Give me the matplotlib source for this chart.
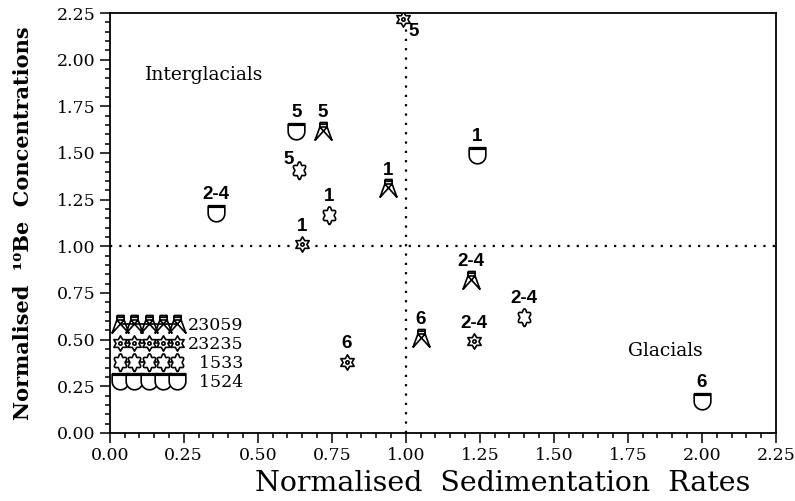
import numpy as np
import matplotlib
matplotlib.use("Agg")
import matplotlib.pyplot as plt
from matplotlib.path import Path
from matplotlib.markers import MarkerStyle
from matplotlib.lines import Line2D
from matplotlib.ticker import MultipleLocator, FormatStrFormatter

# --- data: sedimentation rate (x), 10Be conc. (y), stage label ---
cores = ["23059", "23235", "1533", "1524"]

x_23059 = [0.72, 0.94, 1.22, 1.05]
y_23059 = [1.62, 1.31, 0.82, 0.51]
stage_23059 = ["5", "1", "2-4", "6"]

x_23235 = [0.99, 0.65, 0.80, 1.23]
y_23235 = [2.22, 1.01, 0.38, 0.49]
stage_23235 = ["5", "1", "6", "2-4"]

x_1533 = [0.64, 0.74, 1.40]
y_1533 = [1.41, 1.17, 0.62]
stage_1533 = ["5", "1", "2-4"]

x_1524 = [0.36, 0.63, 1.24, 2.00]
y_1524 = [1.18, 1.62, 1.49, 0.17]
stage_1524 = ["2-4", "5", "1", "6"]

x_ticks = [0.00, 0.25, 0.50, 0.75, 1.00, 1.25, 1.50, 1.75, 2.00, 2.25]
y_ticks = [0.00, 0.25, 0.50, 0.75, 1.00, 1.25, 1.50, 1.75, 2.00, 2.25]


# --- marker shapes (old plotter symbols) ---
def pylon_path():
    M, L = Path.MOVETO, Path.LINETO
    verts = [(-0.4, 1.0), (0.4, 1.0), (0.4, 0.5), (-0.4, 0.5), (-0.4, 1.0),
             (-0.4, 0.8), (0.4, 0.8),
             (-0.4, 0.5), (-0.95, -1.0),
             (0.4, 0.5), (0.95, -1.0),
             (-0.4, 0.5), (0.95, -1.0),
             (0.4, 0.5), (-0.95, -1.0)]
    codes = [M, L, L, L, L, M, L, M, L, M, L, M, L, M, L]
    return Path(verts, codes)


def star_path():
    ang = np.deg2rad(90 + 30 * np.arange(12))
    rad = np.where(np.arange(12) % 2 == 0, 1.0, 0.58)
    outer = np.column_stack([rad * np.cos(ang), rad * np.sin(ang)])
    t = np.linspace(0, 2 * np.pi, 13)
    inner = np.column_stack([0.22 * np.cos(t), 0.22 * np.sin(t)])
    verts = np.vstack([outer, outer[:1], inner])
    codes = ([Path.MOVETO] + [Path.LINETO] * 11 + [Path.CLOSEPOLY]
             + [Path.MOVETO] + [Path.LINETO] * 12)
    return Path(verts, codes)


def cloud_path():
    t = np.linspace(np.pi / 2, np.pi / 2 + 2 * np.pi, 121)
    r = 0.82 + 0.16 * np.cos(6 * (t - np.pi / 2))
    verts = np.column_stack([0.8 * r * np.cos(t), r * np.sin(t)])
    verts = np.vstack([verts, [(0, -0.95), (0, -1.1)]])
    codes = [Path.MOVETO] + [Path.LINETO] * 120 + [Path.MOVETO, Path.LINETO]
    return Path(verts, codes)


def shield_path():
    t = np.linspace(0, -np.pi, 17)
    arc = np.column_stack([0.8 * np.cos(t), 0.8 * np.sin(t)])
    outline = np.vstack([[(-0.8, 0.75), (0.8, 0.75), (0.8, 0.0)], arc, [(-0.8, 0.75)]])
    bar = np.array([(-0.8, 0.6), (0.8, 0.6)])
    verts = np.vstack([outline, bar])
    codes = ([Path.MOVETO] + [Path.LINETO] * (len(outline) - 1)
             + [Path.MOVETO, Path.LINETO])
    return Path(verts, codes)


styles = {
    "23059": dict(marker=MarkerStyle(pylon_path()), mfc="none", ms=13),
    "23235": dict(marker=MarkerStyle(star_path()), mfc="white", ms=11),
    "1533": dict(marker=MarkerStyle(cloud_path()), mfc="white", ms=14),
    "1524": dict(marker=MarkerStyle(shield_path()), mfc="white", ms=12),
}

series = {
    "23059": (x_23059, y_23059, stage_23059),
    "23235": (x_23235, y_23235, stage_23235),
    "1533": (x_1533, y_1533, stage_1533),
    "1524": (x_1524, y_1524, stage_1524),
}

# label placement exceptions (core, index) -> (dx, dy, ha, va) in points
label_pos = {
    ("1533", 0): (-4, 1, "right", "bottom"),
    ("23235", 0): (4, -3, "left", "top"),
}

fig = plt.figure(figsize=(7.95, 5.01), dpi=100)
ax = fig.add_axes([0.138, 0.136, 0.838, 0.838])

serif = "DejaVu Serif"
sans = "Liberation Sans"

# quadrant guides
ax.axvline(1.0, color="black", lw=1.6, ls=(0, (1, 3.2)), zorder=1)
ax.axhline(1.0, color="black", lw=1.6, ls=(0, (1, 3.2)), zorder=1)

for name in cores:
    xs, ys, stages = series[name]
    st = styles[name]
    ax.plot(xs, ys, ls="none", marker=st["marker"], ms=st["ms"], mfc=st["mfc"],
            mec="black", mew=1.2, zorder=3)
    for i, (x, y, s) in enumerate(zip(xs, ys, stages)):
        dx, dy, ha, va = label_pos.get((name, i), (0, 7, "center", "bottom"))
        ax.annotate(s, (x, y), xytext=(dx, dy), textcoords="offset points",
                    ha=ha, va=va, fontsize=13.5, fontweight="bold", family=sans)

ax.text(0.12, 1.92, "Interglacials", fontsize=13.5, family=serif, va="center")
ax.text(1.75, 0.44, "Glacials", fontsize=13.5, family=serif, va="center")

# legend: chain of five symbols per core
handles = []
for name in cores:
    st = styles[name]
    handles.append(Line2D([], [], color="black", lw=1.2, marker=st["marker"],
                          ms=st["ms"], mfc=st["mfc"], mec="black", mew=1.2))
legend_labels = ["23059", "23235", "\u20071533", "\u20071524"]
ax.legend(handles, legend_labels, numpoints=5, handlelength=3.9, handletextpad=0.3,
          labelspacing=0.12, frameon=False, loc="lower left",
          bbox_to_anchor=(-0.003, 0.083), borderaxespad=0,
          prop={"family": serif, "size": 12.5})

ax.set_xlim(0, 2.25)
ax.set_ylim(0, 2.25)
ax.set_xticks(x_ticks)
ax.set_yticks(y_ticks)
ax.xaxis.set_minor_locator(MultipleLocator(0.05))
ax.yaxis.set_minor_locator(MultipleLocator(0.05))
ax.xaxis.set_major_formatter(FormatStrFormatter("%.2f"))
ax.yaxis.set_major_formatter(FormatStrFormatter("%.2f"))
ax.tick_params(which="both", direction="out", top=False, right=False, width=1.1,
               labelsize=12.5)
ax.tick_params(which="major", length=7, pad=3)
ax.tick_params(which="minor", length=3.5)
for lab in ax.get_xticklabels() + ax.get_yticklabels():
    lab.set_family(serif)
for sp in ax.spines.values():
    sp.set_linewidth(1.3)

ax.set_xlabel("Normalised  Sedimentation  Rates", fontsize=20.5, family=serif)
ax.xaxis.set_label_coords(0.59, -0.088)
ax.set_ylabel("Normalised  \u00b9\u2070Be  Concentrations", fontsize=15,
              family=serif, fontweight="bold")
ax.yaxis.set_label_coords(-0.115, 0.5)

fig.savefig("out.png", dpi=100)
